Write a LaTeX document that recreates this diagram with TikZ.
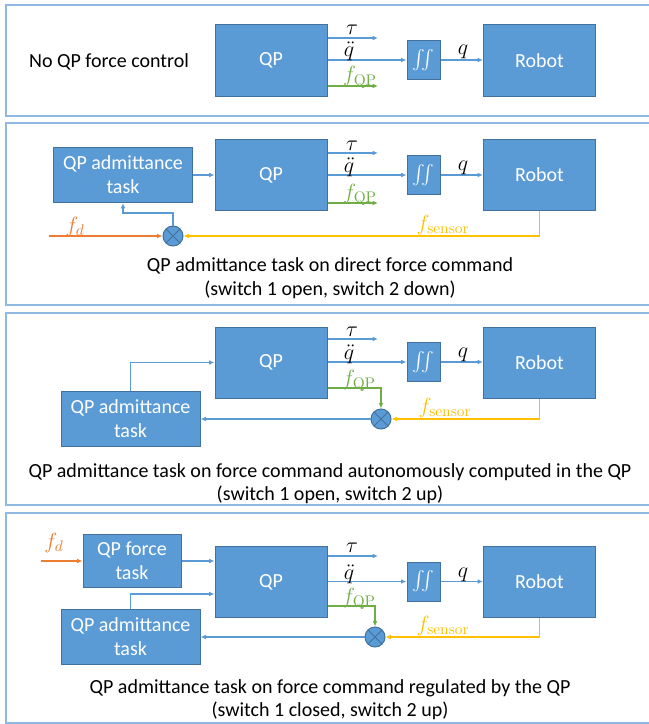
\RequirePackage{fix-cm}
\documentclass[tikz,border=0pt]{standalone}
\usepackage{amsmath}
\usepackage[no-math]{fontspec}
\setmainfont{Carlito}
\usetikzlibrary{arrows.meta}

\definecolor{boxfill}{HTML}{5B9BD5}
\definecolor{boxline}{HTML}{41719C}
\definecolor{sigblue}{HTML}{5B9BD5}
\definecolor{framec}{HTML}{8FB8E2}
\definecolor{forcegreen}{HTML}{70AD47}
\definecolor{desorange}{HTML}{ED7D31}
\definecolor{sensyellow}{HTML}{FFC000}

\tikzset{every picture/.style={line width=0.75pt}}
\tikzset{
  blk/.style={draw=boxline, fill=boxfill, text=white, inner sep=0pt, align=center,
    font=\fontsize{15}{18}\selectfont},
  qpblk/.style={blk, minimum width=84pt, minimum height=53.25pt},
  intblk/.style={blk, minimum width=24.75pt, minimum height=29.25pt},
  admblk/.style={blk, minimum width=104.25pt, minimum height=41.25pt},
  sumnode/.style={circle, draw=boxline, fill=boxfill, minimum size=15pt, inner sep=0pt,
    path picture={\draw[boxline] (path picture bounding box.north west) -- (path picture bounding box.south east)
      (path picture bounding box.north east) -- (path picture bounding box.south west);}},
  sig/.style={draw=sigblue, line width=0.9pt, -{Latex[length=4pt,width=3.5pt]}},
  lbl/.style={inner sep=0pt, font=\fontsize{16.5}{19}\selectfont},
  outlbl/.style={lbl, anchor=base},
  txt/.style={inner sep=0pt, font=\fontsize{15}{18}\selectfont},
  panel/.style={draw=framec, line width=1.1pt},
}

\begin{document}
\begin{tikzpicture}[x=0.75pt,y=0.75pt,yscale=-1,xscale=1]
\useasboundingbox (0,0) rectangle (649,724);

%Shape: Rectangle -- panel frames
\draw[panel] (6,5) rectangle (660,116);
\draw[panel] (6,123) rectangle (660,305);
\draw[panel] (6,313) rectangle (660,505);
\draw[panel] (6,513) rectangle (660,723);

%%%%%%%%%%%%%%%% panel 1
% Text Node
\node[txt] (titleA) at (109,62) {No QP force control};
%Shape: Rectangle
\node[qpblk] (qpA) at (271,60.5) {QP};
\node[intblk] (intA) at (423.5,60) {$\iint$};
\node[qpblk] (robotA) at (539.5,60.5) {Robot};
%Straight Lines
\coordinate (tauA) at (378,38);
\coordinate (fqpA) at (378,86);
\draw[sig] (qpA.east |- tauA) -- (tauA);
\draw[sig] (qpA.east |- intA) -- (intA.west);
\draw[sig, draw=forcegreen] (qpA.east |- fqpA) -- (fqpA);
\draw[sig] (intA.east) -- (robotA.west |- intA);
% Text Node
\node[outlbl] (tauAl) at (352,35) {$\tau$};
\node[outlbl] (ddqAl) at (349,57) {$\ddot{q}$};
\node[outlbl, text=forcegreen] (fqpAl) at (360,82) {$f_{\mathrm{QP}}$};
\node[outlbl] (qAl) at (463,55) {$q$};

%%%%%%%%%%%%%%%% panel 2
%Shape: Rectangle
\node[admblk] (admB) at (123,175) {QP admittance\\task};
\node[qpblk] (qpB) at (271,175) {QP};
\node[intblk] (intB) at (423.5,175) {$\iint$};
\node[qpblk] (robotB) at (539.5,175) {Robot};
%Shape: Circle
\node[sumnode] (sumB) at (173,236) {};
%Straight Lines
\coordinate (tauB) at (378,153);
\coordinate (fqpB) at (378,203);
\coordinate (fdB) at (49,236);
\coordinate (kB) at (123,213);
\draw[sig] (admB.east) -- (qpB.west |- admB);
\draw[sig] (qpB.east |- tauB) -- (tauB);
\draw[sig] (qpB.east |- intB) -- (intB.west);
\draw[sig, draw=forcegreen] (qpB.east |- fqpB) -- (fqpB);
\draw[sig] (intB.east) -- (robotB.west |- intB);
\draw[sig, draw=desorange] (fdB) -- (sumB.west);
\draw[sig, draw=sensyellow] (robotB.south) |- (sumB.east);
\draw[sig] (sumB.north) |- (kB) -- (admB.south);
% Text Node
\node[outlbl] (tauBl) at (352,150) {$\tau$};
\node[outlbl] (ddqBl) at (349,172) {$\ddot{q}$};
\node[outlbl, text=forcegreen] (fqpBl) at (360,199) {$f_{\mathrm{QP}}$};
\node[outlbl] (qBl) at (463,170) {$q$};
\node[lbl, text=desorange] (fdBl) at (75,227) {$f_d$};
\node[lbl, text=sensyellow] (fsBl) at (443,225) {$f_{\mathrm{sensor}}$};
\node[txt] (capB1) at (330,266) {QP admittance task on direct force command};
\node[txt] (capB2) at (330,290) {(switch 1 open, switch 2 down)};

%%%%%%%%%%%%%%%% panel 3
%Shape: Rectangle
\node[qpblk] (qpC) at (271,362.5) {QP};
\node[intblk] (intC) at (423.5,362) {$\iint$};
\node[qpblk] (robotC) at (539.5,362.5) {Robot};
\node[admblk] (admC) at (130.5,419) {QP admittance\\task};
%Shape: Circle
\node[sumnode] (sumC) at (381,419) {};
%Straight Lines
\coordinate (tauC) at (378,339);
\coordinate (fqpC) at (381,388);
\draw[sig] (qpC.east |- tauC) -- (tauC);
\draw[sig] (qpC.east |- intC) -- (intC.west);
\draw[sig, draw=forcegreen] (qpC.east |- fqpC) -- (fqpC) -- (sumC.north);
\draw[sig] (intC.east) -- (robotC.west |- intC);
\draw[sig, draw=sensyellow] (robotC.south) |- (sumC.east);
\draw[sig] (sumC.west) -- (admC.east |- sumC);
\draw[sig] (admC.north) |- (qpC.west);
% Text Node
\node[outlbl] (tauCl) at (352,336) {$\tau$};
\node[outlbl] (ddqCl) at (349,359) {$\ddot{q}$};
\node[outlbl, text=forcegreen] (fqpCl) at (359,385) {$f_{\mathrm{QP}}$};
\node[outlbl] (qCl) at (463,357) {$q$};
\node[lbl, text=sensyellow] (fsCl) at (445,408) {$f_{\mathrm{sensor}}$};
\node[txt] (capC1) at (330,472) {QP admittance task on force command autonomously computed in the QP};
\node[txt] (capC2) at (330,495) {(switch 1 open, switch 2 up)};

%%%%%%%%%%%%%%%% panel 4
%Shape: Rectangle
\node[blk, minimum width=73.5pt, minimum height=39.75pt] (ftD) at (132,561) {QP force\\task};
\node[qpblk] (qpD) at (271,582) {QP};
\node[intblk] (intD) at (423.5,581.5) {$\iint$};
\node[qpblk] (robotD) at (539.5,582) {Robot};
\node[admblk] (admD) at (130.5,637) {QP admittance\\task};
%Shape: Circle
\node[sumnode] (sumD) at (375,637) {};
%Straight Lines
\coordinate (fdD) at (41,561);
\coordinate (tauD) at (378,556);
\coordinate (fqpD) at (375,606);
\coordinate (kD) at (130.5,594);
\draw[sig, draw=desorange] (fdD) -- (ftD.west);
\draw[sig] (ftD.east) -- (qpD.west |- ftD);
\draw[sig] (qpD.east |- tauD) -- (tauD);
\draw[sig] (qpD.east |- intD) -- (intD.west);
\draw[sig, draw=forcegreen] (qpD.east |- fqpD) -- (fqpD) -- (sumD.north);
\draw[sig] (intD.east) -- (robotD.west |- intD);
\draw[sig, draw=sensyellow] (robotD.south) |- (sumD.east);
\draw[sig] (sumD.west) -- (admD.east |- sumD);
\draw[sig] (admD.north) -- (kD) -- (qpD.west |- kD);
% Text Node
\node[lbl, text=desorange] (fdDl) at (54,543) {$f_d$};
\node[outlbl] (tauDl) at (352,552) {$\tau$};
\node[outlbl] (ddqDl) at (349,579) {$\ddot{q}$};
\node[outlbl, text=forcegreen] (fqpDl) at (359,603) {$f_{\mathrm{QP}}$};
\node[outlbl] (qDl) at (463,577) {$q$};
\node[lbl, text=sensyellow] (fsDl) at (443,626) {$f_{\mathrm{sensor}}$};
\node[txt] (capD1) at (330,688) {QP admittance task on force command regulated by the QP};
\node[txt] (capD2) at (330,711) {(switch 1 closed, switch 2 up)};

\end{tikzpicture}
\end{document}
